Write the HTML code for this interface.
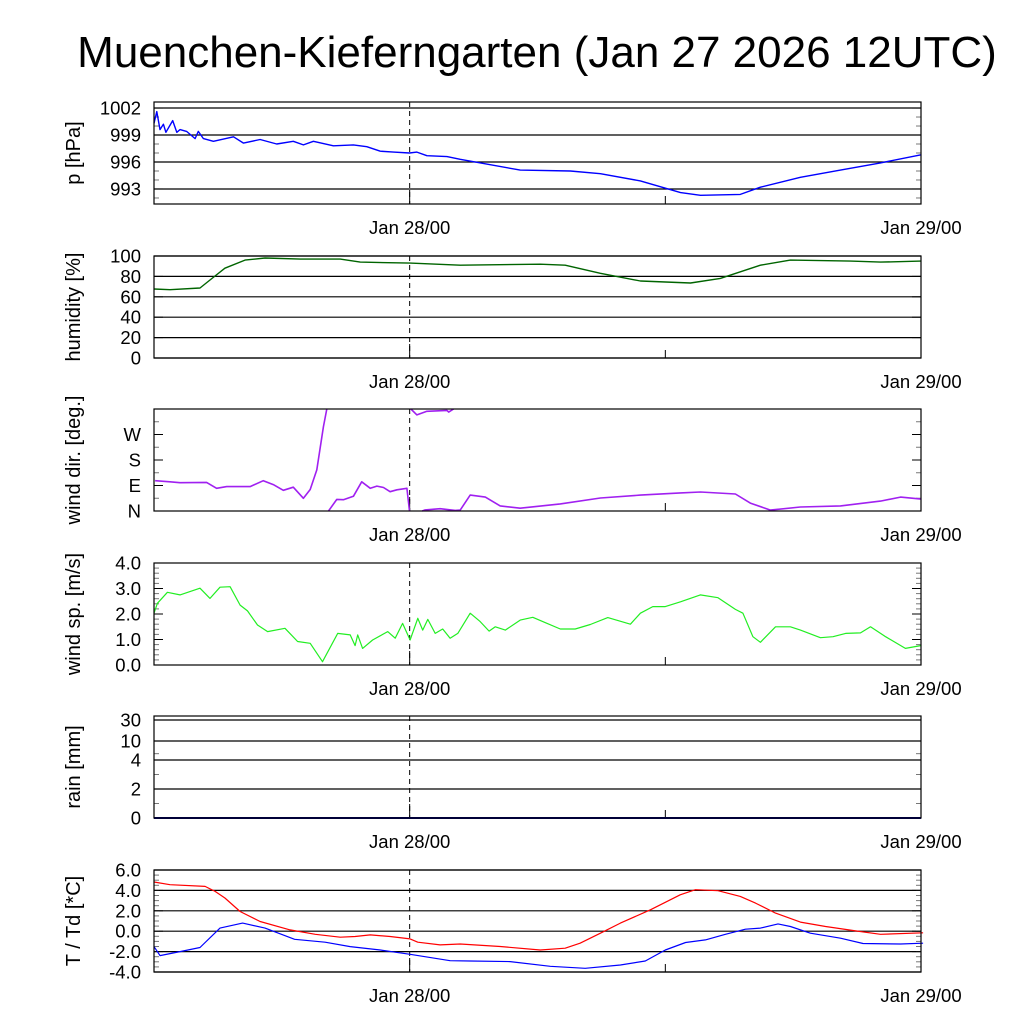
<!DOCTYPE html>
<html><head><meta charset="utf-8"><style>
html,body{margin:0;padding:0;background:#fff;}
svg{display:block;font-family:"Liberation Sans",sans-serif;}
</style></head><body>
<svg id="chart" width="1024" height="1024" viewBox="0 0 1024 1024" xmlns="http://www.w3.org/2000/svg">
<rect width="1024" height="1024" fill="#fff"/>
<text x="537" y="67" font-size="44" text-anchor="middle">Muenchen-Kieferngarten (Jan 27 2026 12UTC)</text>
</svg>
<script>
// ---- data (time in hours since Jan 27 12UTC) ----
const xTickHours = [12, 24, 36];
const xTickLabels = ["Jan 28/00", "", "Jan 29/00"];

const presT = [0,0.13,0.28,0.44,0.56,0.88,1.07,1.22,1.53,1.93,2.08,2.32,2.79,3.73,4.2,4.98,5.76,6.54,7.01,7.48,8.42,9.36,9.99,10.62,11.24,11.99,12.34,12.81,13.75,14.37,17.19,19.54,20.95,22.83,24.71,25.65,27.52,28.46,30.34,32.22,34.1,36];
const presV = [1000.3,1001.6,999.6,1000.2,999.3,1000.6,999.3,999.6,999.4,998.6,999.4,998.6,998.3,998.8,998.1,998.5,998.0,998.3,997.9,998.3,997.8,997.9,997.7,997.2,997.1,997.0,997.1,996.7,996.6,996.3,995.1,995.0,994.7,993.9,992.6,992.3,992.4,993.2,994.3,995.1,995.9,996.8];
const presTicks = [993, 996, 999, 1002];

const humT = [0,0.75,2.16,2.63,3.33,4.27,5.21,6.86,8.74,9.68,12.02,14.37,18.13,19.3,20.95,22.83,25.18,26.58,28.46,29.87,32.69,34.1,36];
const humV = [67.6,67,68.6,76.5,88,96,98,97,97,94,93,91,92,91,83,75.5,73.5,78,91,96,95,94,95];
const humTicks = [0,20,40,60,80,100];

const dirSegT = [
 [0.05,0.75,1.22,2.47,2.94,3.41,4.51,5.13,5.6,6.07,6.54,7.01,7.33,7.64,7.95,8.11],
 [8.19,8.58,8.89,9.36,9.75,10.15,10.46,10.77,11.08,11.4,11.87,11.99],
 [12.06,12.34,12.81,13.75,13.83,14.06],
 [12.59,12.73,13.43,14.14,14.37,14.84,15.55,16.25,17.19,19.07,20.95,22.83,24.71,25.65,27.29,27.99,28.93,30.34,32.22,34.1,35.04,36]
];
const dirSegV = [
 [107,103,100,101,80,86,86,107,93,73,84,45,76,145,297,360],
 [0,41,40,52,103,80,88,83,68,75,80,0],
 [360,339,352,355,349,360],
 [0,4,8,2,3,56,49,18,10,25,46,56,64,67,60,28,3,14,18,35,49,42]
];
const dirTickLabels = ["N","E","S","W"];
const dirTicks = [0,90,180,270];

const spdT = [0,0.16,0.63,1.22,2.16,2.63,3.1,3.57,4.04,4.39,4.86,5.33,6.15,6.74,7.33,7.91,8.62,9.21,9.44,9.56,9.79,10.26,10.97,11.32,11.67,12.02,12.38,12.61,12.85,13.2,13.55,13.9,14.26,14.84,15.31,15.73,16.02,16.49,17.19,17.78,18.37,19.07,19.77,20.48,21.3,22.36,22.83,23.41,24.0,24.71,25.64,26.47,27.29,27.64,28.11,28.46,29.17,29.87,30.34,31.28,31.87,32.46,33.16,33.63,34.34,35.27,35.98];
const spdV = [2.03,2.42,2.85,2.75,3.01,2.61,3.05,3.07,2.35,2.12,1.57,1.31,1.44,0.92,0.85,0.13,1.24,1.18,0.76,1.18,0.65,0.98,1.31,1.05,1.63,0.98,1.83,1.37,1.79,1.24,1.41,1.05,1.24,2.03,1.7,1.33,1.5,1.37,1.76,1.87,1.66,1.41,1.41,1.59,1.86,1.6,2.03,2.29,2.29,2.48,2.75,2.64,2.18,2.03,1.11,0.89,1.5,1.5,1.37,1.07,1.11,1.24,1.26,1.5,1.11,0.65,0.76];
const spdTicks = [0,1,2,3,4];

const rainT = [0,36];
const rainV = [0,0];
const rainTicks = [0,2,4,10,30];

const tmpT = [0,0.75,2.4,2.87,3.33,4.04,4.98,6.39,7.57,8.74,9.44,10.15,11.08,12.02,12.38,13.43,14.37,16.25,18.13,19.3,20.0,20.95,21.89,23.3,24.7,25.41,26.47,27.52,28.23,29.17,30.34,31.52,32.93,34.1,36.1];
const tmpV = [4.82,4.56,4.39,3.9,3.25,1.93,0.95,0.13,-0.3,-0.59,-0.52,-0.36,-0.52,-0.75,-1.08,-1.34,-1.25,-1.5,-1.84,-1.67,-1.18,-0.2,0.79,2.1,3.57,4.07,3.97,3.41,2.75,1.77,0.89,0.46,0.03,-0.3,-0.16];
const dewT = [0,0.28,1.22,2.16,3.1,4.16,5.21,6.6,8.03,9.21,10.62,12.02,13.9,14.84,16.72,18.6,20.24,21.89,23.06,24.0,24.95,25.88,26.82,27.76,28.46,29.29,29.87,30.81,32.22,33.28,35.04,36.1];
const dewV = [-1.51,-2.39,-2.0,-1.6,0.3,0.79,0.3,-0.79,-1.08,-1.51,-1.84,-2.26,-2.89,-2.92,-2.98,-3.44,-3.64,-3.31,-2.92,-1.84,-1.11,-0.85,-0.3,0.2,0.3,0.72,0.46,-0.2,-0.69,-1.21,-1.25,-1.18];
const tmpTicks = [-4,-2,0,2,4,6];

// ---- layout ----
const NS = "http://www.w3.org/2000/svg";
const svg = document.getElementById("chart");
const X0 = 154, X1 = 921, T0 = 0, T1 = 36;
function xs(t){ return X0 + (t - T0) / (T1 - T0) * (X1 - X0); }
function mk(tag, attrs, parent){ const e = document.createElementNS(NS, tag); for (const k in attrs) e.setAttribute(k, attrs[k]); (parent||svg).appendChild(e); return e; }

function panel(cfg){
  const g = mk("g", {});
  
  
  const y = cfg.ys;
  if (cfg.grid) cfg.ticks.forEach(v => {
    const l = mk("line", {x1:X0, x2:X1, y1:y(v), y2:y(v), stroke:"#000", "stroke-width":1.2}, g);
    
    
  });
  (cfg.minor||[]).forEach(v => {
    mk("line", {x1:X0, x2:X0+5, y1:y(v), y2:y(v), stroke:"#777", "stroke-width":1}, g);
    mk("line", {x1:X1-5, x2:X1, y1:y(v), y2:y(v), stroke:"#777", "stroke-width":1}, g);
  });
  cfg.ticks.forEach((v,i) => {
    mk("line", {x1:X0, x2:X0+9, y1:y(v), y2:y(v), stroke:"#000", "stroke-width":1}, g);
    mk("line", {x1:X1-9, x2:X1, y1:y(v), y2:y(v), stroke:"#000", "stroke-width":1}, g);
    const t = mk("text", {x:141, y:y(v)+6.5, "font-size":18.5, "text-anchor":"end"}, g);
    t.textContent = cfg.labels ? cfg.labels[i] : cfg.fmt(v);
    
    
  });
  mk("line", {x1:xs(12), x2:xs(12), y1:cfg.top, y2:cfg.bot, stroke:"#000", "stroke-width":1, "stroke-dasharray":"5,4"}, g);
  xTickHours.forEach((h,i) => {
    const len = i === 0 ? 14 : 8;
    mk("line", {x1:xs(h), x2:xs(h), y1:cfg.bot-len, y2:cfg.bot, stroke:"#000", "stroke-width":1}, g);
    if (xTickLabels[i]) {
      const t = mk("text", {x:xs(h), y:cfg.bot+30, "font-size":18.5, "text-anchor":"middle"}, g);
      t.textContent = xTickLabels[i];
      
      
    }
  });
  const cy = (cfg.top + cfg.bot) / 2;
  const yt = mk("text", {x:80, y:cy, "font-size":20, "text-anchor":"middle", transform:`rotate(-90 80 ${cy})`}, g);
  yt.textContent = cfg.title;
  
  
  cfg.series.forEach(s => {
    let d = "";
    s.t.forEach((t,i) => { d += (i ? "L" : "M") + xs(t).toFixed(1) + "," + y(s.v[i]).toFixed(1); });
    const p = mk("path", {d:d, fill:"none", stroke:s.color, "stroke-width":s.w||1.4, "stroke-linejoin":"round"}, g);
    
    
  });
  const f = mk("rect", {x:X0, y:cfg.top, width:X1-X0, height:cfg.bot-cfg.top, fill:"none", stroke:"#000", "stroke-width":1.2}, g);
  
  
}
function lin(v0, v1, top, bot){ return v => bot - (v - v0) / (v1 - v0) * (bot - top); }
function range(a,b,s){ const r=[]; for (let v=a; v<=b+1e-9; v+=s) r.push(+v.toFixed(3)); return r; }

panel({name:"pressure", title:"p [hPa]", top:102, bot:204, ys:lin(991.33,1002.67,102,204), ticks:presTicks, minor:range(992,1002,1), grid:true, fmt:v=>String(v),
  series:[{name:"pressure-line", t:presT, v:presV, color:"#0000ff"}]});
panel({name:"humidity", title:"humidity [%]", top:256, bot:358, ys:lin(0,100,256,358), ticks:humTicks, grid:true, fmt:v=>String(v),
  series:[{name:"humidity-line", t:humT, v:humV, color:"#006400"}]});
panel({name:"wind-direction", title:"wind dir. [deg.]", top:409, bot:511, ys:lin(0,360,409,511), ticks:dirTicks, labels:dirTickLabels, minor:[45,135,225,315], grid:false,
  series:dirSegT.map((t,i)=>({name:"wind-direction-segment", t:t, v:dirSegV[i], color:"#a020f0", w:1.6}))});
panel({name:"wind-speed", title:"wind sp. [m/s]", top:563, bot:665, ys:lin(0,4,563,665), ticks:spdTicks, minor:range(0.2,3.8,0.2), grid:false, fmt:v=>v.toFixed(1),
  series:[{name:"wind-speed-line", t:spdT, v:spdV, color:"#22ee22", w:1.2}]});
const rainPix = [818, 789, 760, 741, 720];
function rainY(v){ for (let i=0;i<rainTicks.length-1;i++){ if (v<=rainTicks[i+1]) return rainPix[i]+(v-rainTicks[i])/(rainTicks[i+1]-rainTicks[i])*(rainPix[i+1]-rainPix[i]); } return 716; }
panel({name:"rain", title:"rain [mm]", top:716, bot:818, ys:rainY, ticks:rainTicks, minor:[1,3,6], grid:true, fmt:v=>String(v),
  series:[{name:"rain-line", t:rainT, v:rainV, color:"#00008b", w:2}]});
panel({name:"temperature", title:"T / Td [*C]", top:870, bot:972, ys:lin(-4,6,870,972), ticks:tmpTicks, minor:range(-3.5,5.5,0.5), grid:true, fmt:v=>v.toFixed(1),
  series:[{name:"temperature-line", t:tmpT, v:tmpV, color:"#ff0000", w:1.2},{name:"dewpoint-line", t:dewT, v:dewV, color:"#0000ff", w:1.2}]});
</script>
</body></html>
